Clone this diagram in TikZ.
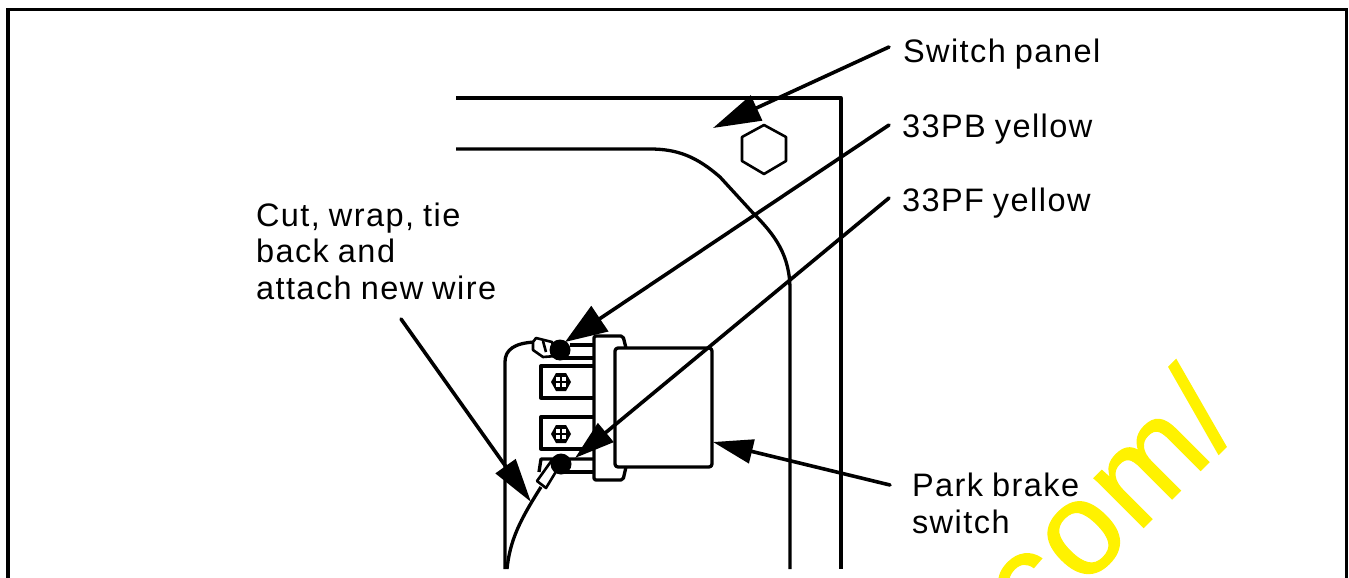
\documentclass[tikz,border=0pt]{standalone}
\usepackage{fontspec}
\setmainfont[LetterSpace=4.5,WordSpace=0.85]{Liberation Sans}
\newfontfamily\wmfont[LetterSpace=3,FakeBold=1]{Liberation Sans}
\usetikzlibrary{arrows.meta,calc}
\tikzset{
  lbl/.style={inner sep=0pt,outer sep=0pt,anchor=base west,align=left,font=\fontsize{32.5}{36.8}\selectfont},
  leader/.style={line width=3.6pt,line cap=round},
  part/.style={line width=3.3pt,line join=round},
  thin part/.style={line width=2.6pt,line join=round},
  wm/.style={inner sep=0pt,text=yellow,anchor=base west,rotate=45,font=\wmfont\fontsize{132}{132}\selectfont}
}
\begin{document}
\begin{tikzpicture}[x=1pt,y=-1pt]
\useasboundingbox (0,0) rectangle (1349,578);
\clip (0,0) rectangle (1349,578);
% frame
\draw[line width=3.6pt,line join=miter] (8,578) -- (8,9.5) -- (1346.5,9.5) -- (1346.5,578);
% watermark
\node[wm] (wmark) at (1033,638) {com/};
% panel
\draw[part] (456,98) -- (841,98) -- (841,569);
\draw[part] (456,149) -- (650,149) .. controls (678,149) and (697,157) .. (720,177) -- (753,213) .. controls (775,235) and (790,255) .. (790,290) -- (790,569);
\draw[thin part] (764,125) -- (786,137) -- (786,161) -- (764,174) -- (742,161) -- (742,137) -- cycle;
% bracket and wires
\draw[part] (505,569) -- (505,362) .. controls (505,350) and (514,343) .. (535,342);
\draw[part] (507,569) .. controls (510,540) and (520,520) .. (541,487);
% switch body
\draw[part,rounded corners=3pt] (615,348) -- (712,348) -- (712,467) -- (615,467) -- cycle;
\draw[part,rounded corners=2pt] (626,348) -- (623,336) -- (594,336) -- (594,480) -- (623,480) -- (626,467);
% terminals
\draw[part] (570,345) -- (594,345);
\draw[part] (556,358) -- (594,358);
\draw[part] (594,366) -- (541,366) -- (541,398) -- (594,398);
\draw[part] (594,417) -- (541,417) -- (541,449) -- (594,449);
\draw[part] (594,459) -- (541,459) -- (539,472);
\draw[part] (560,472) -- (594,472);
% bolts
\foreach \n/\cy in {a/382,b/434}{
  \fill (561,\cy) ++(-10,0) -- ++(5,-9) -- ++(10,0) -- ++(5,9) -- ++(-5,9) -- ++(-10,0) -- cycle;
  \fill[white] (556,\cy-5) rectangle (560,\cy-1);
  \fill[white] (562,\cy-5) rectangle (566,\cy-1);
  \fill[white] (556,\cy+1) rectangle (560,\cy+5);
  \fill[white] (562,\cy+1) rectangle (566,\cy+5);
}
% crimps
\draw[thin part,fill=white] (533,342) -- (536,338) -- (552,342) -- (556,356) -- (543,357) -- (533,350) -- cycle;
\draw[thin part] (543,341) -- (546,352);
\draw[thin part,fill=white] (537,481) -- (552,460) -- (560,465) -- (546,488) -- cycle;
\fill (560,350) circle (10.5);
\fill (561,464) circle (10.5);
% labels
\node[lbl] (sw) at (903,63) {Switch panel};
\node[lbl] (pb) at (902,137) {33PB yellow};
\node[lbl] (pf) at (902,211) {33PF yellow};
\node[lbl,anchor=north west] (cut) at (256,202.5) {Cut, wrap, tie\\back and\\attach new wire};
\node[lbl,anchor=north west] (park) at (912,473) {Park brake\\switch};
% targets
\coordinate (tSwitch) at (713,128);
\coordinate (tPB) at (565,342);
\coordinate (tPF) at (575,458);
\coordinate (tCut) at (531,502);
\coordinate (tPark) at (713,442);
% leaders
\draw[leader,-{Triangle[length=48pt,width=27pt]}] ($(sw.base west)+(-14,-16)$) -- (tSwitch);
\draw[leader,-{Triangle[length=42pt,width=30pt]}] ($(pb.base west)+(-13,-12)$) -- (tPB);
\draw[leader,-{Triangle[length=40pt,width=24pt]}] ($(pf.base west)+(-13,-13)$) -- (tPF);
\draw[leader,-{Triangle[length=44pt,width=24pt]}] ($(cut.south west)+(145,19)$) -- (tCut);
\draw[leader,-{Triangle[length=40pt,width=24pt]}] ($(park.north west)+(-22,12)$) -- (tPark);
\end{tikzpicture}
\end{document}
